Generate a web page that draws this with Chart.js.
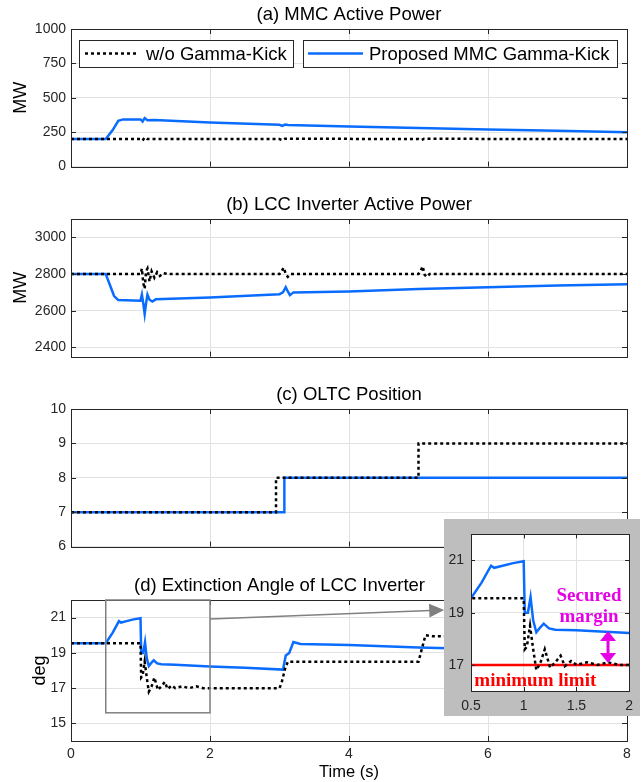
<!DOCTYPE html>
<html>
<head>
<meta charset="utf-8">
<script src="https://cdn.jsdelivr.net/npm/chart.js@4"></script>
<style>
  html, body { margin: 0; padding: 0; background: #fff; }
  #wrap { position: relative; width: 644px; height: 782px; overflow: hidden; }
  canvas { position: absolute; left: 0; }
  #cZ { z-index: 2; }
</style>
</head>
<body>
<div id="wrap">
  <canvas id="cA" width="644" height="180" style="top:0px"></canvas>
  <canvas id="cB" width="644" height="180" style="top:190px"></canvas>
  <canvas id="cC" width="644" height="180" style="top:380px"></canvas>
  <canvas id="cD" width="644" height="211" style="top:571px"></canvas>
  <canvas id="cZ" width="196" height="197" style="top:519px;left:444px"></canvas>
</div>
<script>
// series labels
const baseLabel = 'w/o Gamma-Kick';
const propLabel = 'Proposed MMC Gamma-Kick';

// tick values
const timeTicks = [0, 2, 4, 6, 8];
const mmcTicks = [0, 250, 500, 750, 1000];
const lccTicks = [2400, 2600, 2800, 3000];
const oltcTicks = [6, 7, 8, 9, 10];
const angleTicks = [15, 17, 19, 21];
const zoomTimeTicks = [0.5, 1, 1.5, 2];
const zoomAngleTicks = [17, 19, 21];

// (a) MMC active power, MW
const mmcTimeBase = [0, 1.0, 1.03, 1.06, 1.1, 3.0, 3.04, 3.08, 5.0, 5.04, 5.08, 8];
const mmcPowerBase = [200, 200, 190, 212, 200, 200, 192, 203, 200, 193, 202, 200];
const mmcTimeProp = [0, 0.5, 0.6, 0.68, 0.75, 1.0, 1.03, 1.06, 1.1, 1.2, 2, 3, 3.04, 3.08, 3.12, 4, 5, 6, 7, 8];
const mmcPowerProp = [200, 200, 265, 332, 343, 343, 328, 352, 337, 338, 321, 304, 296, 305, 302, 291, 280, 270, 260, 250];

// (b) LCC inverter active power, MW
const lccTimeBase = [0, 1.0, 1.02, 1.04, 1.06, 1.08, 1.1, 1.13, 1.16, 1.2, 1.24, 1.28, 1.33, 1.4, 3.0, 3.03, 3.06, 3.09, 3.12, 3.16, 5.0, 5.03, 5.06, 5.09, 5.12, 5.16, 8];
const lccPowerBase = [2800, 2800, 2830, 2750, 2720, 2815, 2830, 2760, 2815, 2780, 2810, 2790, 2805, 2800, 2800, 2815, 2835, 2800, 2785, 2800, 2800, 2815, 2842, 2795, 2785, 2800, 2800];
const lccTimeProp = [0, 0.5, 0.62, 0.68, 1.0, 1.02, 1.04, 1.06, 1.08, 1.1, 1.13, 1.17, 1.22, 2, 3.0, 3.05, 3.09, 3.12, 3.15, 3.2, 4, 5, 6, 7, 8];
const lccPowerProp = [2800, 2800, 2680, 2658, 2655, 2688, 2640, 2582, 2640, 2688, 2660, 2650, 2662, 2672, 2690, 2700, 2728, 2705, 2685, 2700, 2705, 2718, 2728, 2737, 2745];

// (c) OLTC tap position
const oltcTimeBase = [0, 2.95, 2.95, 5.0, 5.0, 8];
const oltcTapBase = [7, 7, 8, 8, 9, 9];
const oltcTimeProp = [0, 3.07, 3.07, 8];
const oltcTapProp = [7, 7, 8, 8];

// (d) extinction angle, deg
const angleTimeBase = [0, 0.5, 1.0, 1.01, 1.03, 1.06, 1.09, 1.12, 1.16, 1.2, 1.25, 1.3, 1.35, 1.39, 1.45, 1.5, 1.6, 1.7, 1.8, 1.9, 2.0, 2.5, 3.0, 3.03, 3.08, 3.12, 4.0, 5.0, 5.04, 5.1, 5.2, 6, 7, 8];
const angleBase = [19.55, 19.55, 19.55, 17.6, 17.7, 18.5, 17.6, 16.8, 17.1, 17.6, 16.9, 17.1, 17.35, 16.95, 17.15, 17.0, 17.1, 17.0, 17.1, 17.0, 17.0, 17.0, 17.0, 17.3, 18.1, 18.5, 18.5, 18.5, 19.1, 20.0, 19.95, 19.9, 19.9, 19.9];
const angleTimeProp = [0, 0.5, 0.6, 0.69, 0.72, 0.8, 0.9, 1.0, 1.01, 1.04, 1.065, 1.09, 1.12, 1.16, 1.19, 1.24, 1.3, 1.5, 2.0, 2.5, 3.05, 3.09, 3.14, 3.2, 3.3, 4, 5, 6, 7, 8];
const angleProp = [19.55, 19.55, 20.15, 20.8, 20.72, 20.8, 20.9, 20.97, 19.0, 19.0, 19.6, 18.7, 18.25, 18.45, 18.58, 18.4, 18.35, 18.33, 18.22, 18.15, 18.05, 18.85, 19.0, 19.62, 19.5, 19.45, 19.3, 19.2, 19.1, 19.0];
const minLimitTime = [0.5, 2];
const minLimitAngle = [17, 17];

const SANS = '"Liberation Sans", Arial, Helvetica, sans-serif';
const SERIF = '"Liberation Serif", "Times New Roman", serif';
const BLUE = '#0a6cff';
const INK = '#262626';
const GRID = '#e2e2e2';
const MAGENTA = '#e600e6';
const RED = '#ff0000';

const pts = (xs, ys) => xs.map((x, i) => ({ x, y: ys[i] }));
const fixTicks = vals => scale => { scale.ticks = vals.map(v => ({ value: v })); };

function baseSeries(xs, ys) {
  return { label: baseLabel, data: pts(xs, ys), borderColor: '#000', borderWidth: 2.5, borderDash: [3, 3],
           pointRadius: 0, tension: 0, fill: false };
}
function propSeries(xs, ys) {
  return { label: propLabel, data: pts(xs, ys), borderColor: BLUE, borderWidth: 2.5,
           pointRadius: 0, tension: 0, fill: false };
}

// matlab style box with inward ticks
const boxPlugin = {
  id: 'axesBox',
  afterDatasetsDraw(chart) {
    const { ctx, chartArea: a, scales: { x, y } } = chart;
    const L = chart.width < 300 ? 4 : 5;
    ctx.save();
    ctx.strokeStyle = INK;
    ctx.lineWidth = 1;
    ctx.strokeRect(Math.round(a.left) + 0.5, Math.round(a.top) + 0.5, Math.round(a.right - a.left), Math.round(a.bottom - a.top));
    ctx.beginPath();
    x.ticks.forEach(t => {
      const px = Math.round(x.getPixelForValue(t.value)) + 0.5;
      ctx.moveTo(px, a.bottom); ctx.lineTo(px, a.bottom - L);
      ctx.moveTo(px, a.top); ctx.lineTo(px, a.top + L);
    });
    y.ticks.forEach(t => {
      const py = Math.round(y.getPixelForValue(t.value)) + 0.5;
      ctx.moveTo(a.left, py); ctx.lineTo(a.left + L, py);
      ctx.moveTo(a.right, py); ctx.lineTo(a.right - L, py);
    });
    ctx.stroke();
    ctx.restore();
  }
};
Chart.register(boxPlugin);

function titlePlugin(text, centerValue) {
  return {
    id: 'panelTitle',
    afterDraw(chart) {
      const { ctx, chartArea: a } = chart;
      const cx = centerValue == null ? (a.left + a.right) / 2 : chart.scales.x.getPixelForValue(centerValue);
      ctx.save();
      ctx.font = '18.5px ' + SANS;
      ctx.fillStyle = '#000';
      ctx.textAlign = 'center';
      ctx.textBaseline = 'middle';
      ctx.fillText(text, cx, a.top - 14.5);
      ctx.restore();
    }
  };
}

// two separate legend boxes, like the matlab figure
function legendPlugin(boxes) {
  return {
    id: 'legendBoxes',
    afterDraw(chart) {
      const { ctx } = chart;
      chart.data.datasets.forEach((ds, i) => {
        const b = boxes[i];
        if (!b) return;
        const cy = b.y + b.h / 2;
        ctx.save();
        ctx.fillStyle = '#fff';
        ctx.fillRect(b.x, b.y, b.w, b.h);
        ctx.strokeStyle = INK;
        ctx.lineWidth = 1;
        ctx.strokeRect(b.x + 0.5, b.y + 0.5, b.w, b.h);
        ctx.strokeStyle = ds.borderColor;
        ctx.lineWidth = ds.borderWidth;
        ctx.setLineDash(ds.borderDash || []);
        ctx.beginPath();
        ctx.moveTo(b.x + b.l0, cy);
        ctx.lineTo(b.x + b.l1, cy);
        ctx.stroke();
        ctx.setLineDash([]);
        ctx.fillStyle = '#000';
        ctx.font = '18.5px ' + SANS;
        ctx.textAlign = 'left';
        ctx.textBaseline = 'middle';
        ctx.fillText(ds.label, b.x + b.tx, cy + 1);
        ctx.restore();
      });
    }
  };
}

function arrowHead(ctx, tx, ty, ang, len, half) {
  ctx.beginPath();
  ctx.moveTo(tx, ty);
  ctx.lineTo(tx - len * Math.cos(ang) + half * Math.sin(ang), ty - len * Math.sin(ang) - half * Math.cos(ang));
  ctx.lineTo(tx - len * Math.cos(ang) - half * Math.sin(ang), ty - len * Math.sin(ang) + half * Math.cos(ang));
  ctx.closePath();
  ctx.fill();
}

// zoom rectangle on (d) and the connector arrow to the inset
const zoomMarker = {
  id: 'zoomMarker',
  afterDraw(chart) {
    const { ctx, scales: { x, y } } = chart;
    const l = x.getPixelForValue(0.5), r = x.getPixelForValue(2);
    const t = y.getPixelForValue(22), b = y.getPixelForValue(15.6);
    ctx.save();
    ctx.strokeStyle = '#808080';
    ctx.fillStyle = '#808080';
    ctx.lineWidth = 1.5;
    ctx.strokeRect(l, t, r - l, b - t);
    const sx = r, sy = y.getPixelForValue(20.92);
    const ex = x.getPixelForValue(5.37), ey = y.getPixelForValue(21.43);
    const ang = Math.atan2(ey - sy, ex - sx);
    ctx.beginPath();
    ctx.moveTo(sx, sy);
    ctx.lineTo(ex - 14 * Math.cos(ang), ey - 14 * Math.sin(ang));
    ctx.stroke();
    arrowHead(ctx, ex, ey, ang, 15, 7);
    ctx.restore();
  }
};

// grey frame and annotations of the inset
const insetDecor = {
  id: 'insetDecor',
  beforeDraw(chart) {
    const { ctx, chartArea: a, width, height } = chart;
    ctx.save();
    ctx.fillStyle = '#bebebe';
    ctx.fillRect(0, 0, width, height);
    ctx.fillStyle = '#fff';
    ctx.fillRect(a.left, a.top, a.right - a.left, a.bottom - a.top);
    ctx.restore();
  },
  afterDraw(chart) {
    const { ctx, scales: { x, y } } = chart;
    ctx.save();
    const ax = x.getPixelForValue(1.8);
    const y0 = y.getPixelForValue(17) - 2, y1 = y.getPixelForValue(18.3);
    ctx.strokeStyle = MAGENTA;
    ctx.fillStyle = MAGENTA;
    ctx.lineWidth = 3;
    ctx.beginPath();
    ctx.moveTo(ax, y0 - 8);
    ctx.lineTo(ax, y1 + 8);
    ctx.stroke();
    arrowHead(ctx, ax, y1, -Math.PI / 2, 10, 8);
    arrowHead(ctx, ax, y0, Math.PI / 2, 10, 8);
    ctx.font = 'bold 19px ' + SERIF;
    ctx.textAlign = 'center';
    ctx.textBaseline = 'middle';
    ctx.fillText('Secured', x.getPixelForValue(1.62), y.getPixelForValue(19.62));
    ctx.fillText('margin', x.getPixelForValue(1.62), y.getPixelForValue(18.82));
    ctx.fillStyle = RED;
    ctx.fillText('minimum limit', x.getPixelForValue(1.11), y.getPixelForValue(16.38));
    ctx.restore();
  }
};

function panel(id, o) {
  return new Chart(document.getElementById(id), {
    type: 'line',
    data: { datasets: o.datasets },
    options: {
      responsive: false,
      animation: false,
      events: [],
      layout: { padding: o.padding },
      scales: {
        x: {
          type: 'linear', min: o.xRange[0], max: o.xRange[1],
          afterBuildTicks: fixTicks(o.xTicks),
          afterFit: s => { s.height = o.xHeight; },
          border: { display: false },
          grid: { color: GRID, drawTicks: false },
          ticks: { display: !!o.xLabels, padding: o.xPad || 0, color: INK, maxRotation: 0,
                   font: { family: SANS, size: o.tickSize }, callback: v => String(v) },
          title: { display: !!o.xTitle, text: o.xTitle || '', color: '#000',
                   font: { family: SANS, size: 16.5 }, padding: 0 }
        },
        y: {
          type: 'linear', min: o.yRange[0], max: o.yRange[1],
          afterBuildTicks: fixTicks(o.yTicks),
          afterFit: s => { s.width = o.yWidth; },
          border: { display: false },
          grid: { color: GRID, drawTicks: false },
          ticks: { padding: o.yPad, color: INK, font: { family: SANS, size: o.tickSize }, callback: v => String(v) },
          title: { display: !!o.yTitle, text: o.yTitle || '', color: '#000',
                   font: { family: SANS, size: 18 }, padding: { top: o.yTitlePad || 0, bottom: 0 } }
        }
      },
      plugins: { legend: { display: false }, tooltip: { enabled: false } }
    },
    plugins: o.plugins || []
  });
}

const mainAxes = { xRange: [0, 8], xTicks: timeTicks, yWidth: 71, yPad: 5, tickSize: 14 };
const topPad = { top: 29, right: 17, bottom: 11, left: 0 };

panel('cA', Object.assign({}, mainAxes, {
  datasets: [baseSeries(mmcTimeBase, mmcPowerBase), propSeries(mmcTimeProp, mmcPowerProp)],
  yRange: [0, 1000], yTicks: mmcTicks, yTitle: 'MW', yTitlePad: 10,
  xHeight: 0, padding: topPad,
  plugins: [titlePlugin('(a) MMC Active Power'),
            legendPlugin([{ x: 79, y: 40, w: 214, h: 27, l0: 6, l1: 57, tx: 67 },
                          { x: 303, y: 40, w: 314, h: 27, l0: 5, l1: 60, tx: 66 }])]
}));

panel('cB', Object.assign({}, mainAxes, {
  datasets: [baseSeries(lccTimeBase, lccPowerBase), propSeries(lccTimeProp, lccPowerProp)],
  yRange: [2350, 3100], yTicks: lccTicks, yTitle: 'MW', yTitlePad: 10,
  xHeight: 0, padding: topPad,
  plugins: [titlePlugin('(b) LCC Inverter Active Power')]
}));

panel('cC', Object.assign({}, mainAxes, {
  datasets: [baseSeries(oltcTimeBase, oltcTapBase), propSeries(oltcTimeProp, oltcTapProp)],
  yRange: [6, 10], yTicks: oltcTicks,
  xHeight: 0, padding: topPad,
  plugins: [titlePlugin('(c) OLTC Position')]
}));

panel('cD', Object.assign({}, mainAxes, {
  datasets: [baseSeries(angleTimeBase, angleBase), propSeries(angleTimeProp, angleProp)],
  yRange: [14, 22], yTicks: angleTicks, yTitle: 'deg', yTitlePad: 29,
  xHeight: 41, xLabels: true, xPad: 5, xTitle: 'Time (s)',
  padding: { top: 29, right: 17, bottom: 0, left: 0 },
  plugins: [titlePlugin('(d) Extinction Angle of LCC Inverter', 3.0), zoomMarker]
}));

panel('cZ', {
  datasets: [baseSeries(angleTimeBase, angleBase), propSeries(angleTimeProp, angleProp),
             { label: 'minimum limit', data: pts(minLimitTime, minLimitAngle), borderColor: RED,
               borderWidth: 2.5, pointRadius: 0, fill: false }],
  xRange: [0.5, 2], xTicks: zoomTimeTicks, xHeight: 25, xLabels: true, xPad: 7,
  yRange: [16, 22], yTicks: zoomAngleTicks, yWidth: 27, yPad: 7, tickSize: 14,
  padding: { top: 7, right: 7, bottom: 0, left: 0 },
  plugins: [insetDecor]
});
</script>
</body>
</html>
